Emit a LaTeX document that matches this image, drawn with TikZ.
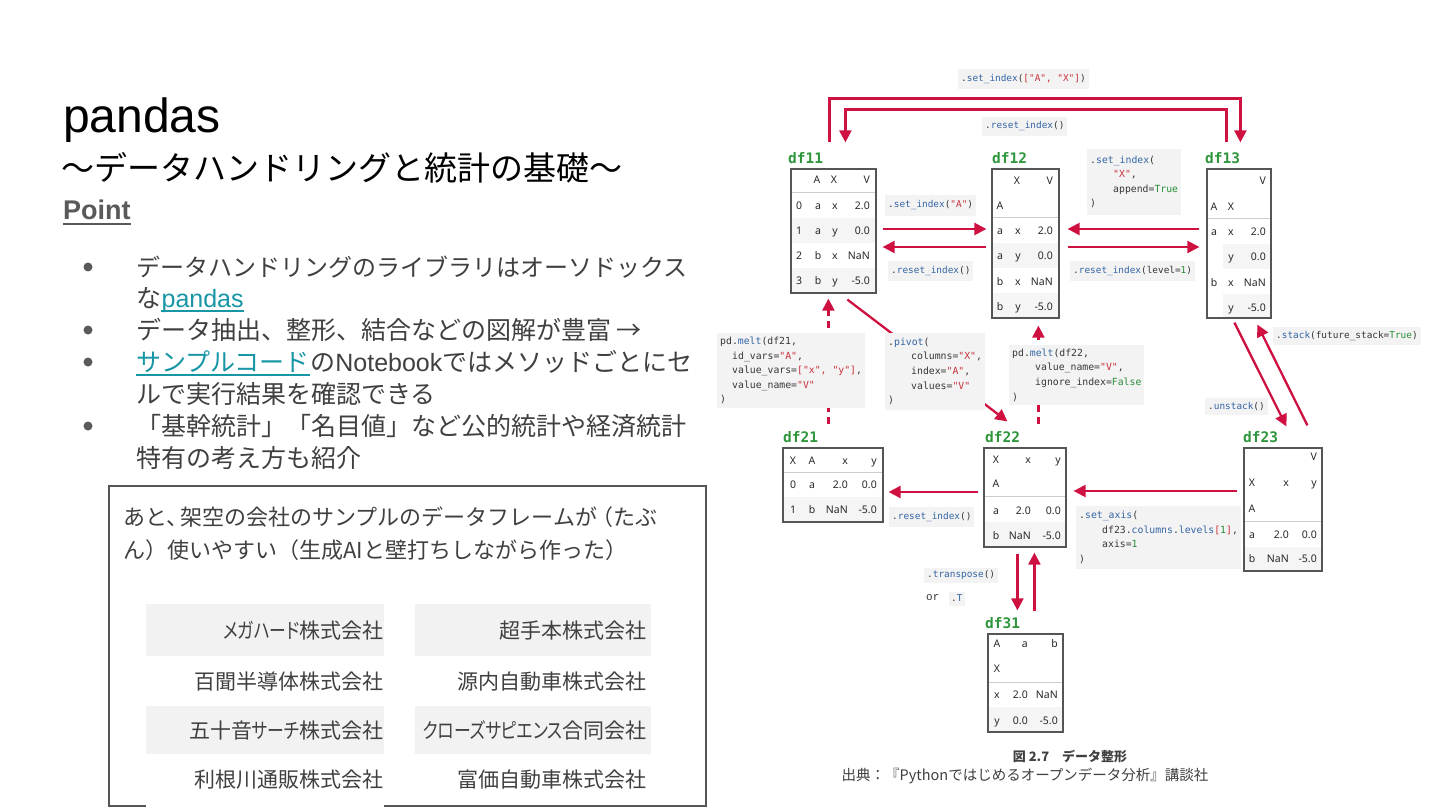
\documentclass[tikz,border=0pt]{standalone}
\usepackage{fontspec}
\usepackage{graphicx}
\setmainfont{Liberation Sans}
\newfontfamily\jpf{Noto Sans CJK JP}
\newfontfamily\jpp[RawFeature=+palt]{Noto Sans CJK JP}
\newfontfamily\cf[Ligatures=TeXOff]{DejaVu Sans Mono}
\newfontfamily\orf[Ligatures=TeXOff]{Liberation Mono}
\newfontfamily\tf{Noto Sans}
\usetikzlibrary{arrows.meta,calc}
\definecolor{crim}{RGB}{206,17,65}
\definecolor{dfg}{RGB}{46,150,60}
\definecolor{cbl}{RGB}{52,101,164}
\definecolor{cstr}{RGB}{200,50,60}
\definecolor{cgr}{RGB}{40,140,55}
\definecolor{codebg}{RGB}{243,243,243}
\definecolor{rowbg}{RGB}{245,245,245}
\definecolor{tbord}{RGB}{85,85,85}
\definecolor{sepc}{RGB}{205,205,205}
\definecolor{txt}{RGB}{64,64,64}
\definecolor{lnk}{RGB}{24,150,166}
\definecolor{ptc}{RGB}{89,89,89}
\definecolor{cellbg}{RGB}{242,242,242}
\definecolor{boxb}{RGB}{85,85,85}
\definecolor{codetx}{RGB}{55,55,55}
\definecolor{bulc}{RGB}{90,90,90}
\definecolor{celltx}{RGB}{40,40,40}
\newcommand\cdB[1]{\textcolor{cbl}{#1}}
\newcommand\cdS[1]{\textcolor{cstr}{#1}}
\newcommand\cdG[1]{\textcolor{cgr}{#1}}
\newcommand\narrowkana[1]{\scalebox{0.8}[1]{#1}}
\newcounter{cellno}
\newcommand\tcell[4]{\stepcounter{cellno}\node[#1] (cell\arabic{cellno}) at (#2,#3) {#4};}
\tikzset{
  arr/.style={draw=crim, line width=2.3pt, -{Triangle[length=12pt,width=12pt]}},
  darr/.style={arr, dash pattern=on 7pt off 5pt},
  cbox/.style={fill=codebg, anchor=west, inner xsep=3pt, inner ysep=0pt, align=left, text=codetx},
  codeone/.style={cbox, font=\cf\fontsize{9.4}{11}\selectfont},
  codemulti/.style={cbox, font=\cf\fontsize{9.8}{14.6}\selectfont},
  dfl/.style={font=\cf\bfseries\fontsize{14.5}{14.5}\selectfont, text=dfg, anchor=west, inner sep=0pt},
  dfbox/.style={draw=tbord, line width=1.2pt, inner sep=0pt},
  sepl/.style={draw=sepc, line width=1pt},
  cellbase/.style={inner sep=0pt, text=celltx},
  ce/.style={cellbase, font=\tf\fontsize{10.5}{10.5}\selectfont, anchor=base},
  cb/.style={cellbase, font=\tf\bfseries\fontsize{10.5}{10.5}\selectfont, anchor=base},
  cer/.style={cellbase, font=\tf\fontsize{10.5}{10.5}\selectfont, anchor=base east},
  cbr/.style={cellbase, font=\tf\bfseries\fontsize{10.5}{10.5}\selectfont, anchor=base east},
  bt/.style={font=\jpf\fontsize{25}{25}\selectfont, text=txt, anchor=base west, inner sep=0pt},
  bul/.style={circle, fill=bulc, inner sep=0pt, minimum size=9pt},
  memo/.style={font=\jpf\fontsize{22}{22}\selectfont, text=txt, anchor=base west, inner sep=0pt},
  comp/.style={font=\jpp\fontsize{21}{21}\selectfont, text=txt, anchor=base east, inner sep=0pt},
}
\begin{document}
\begin{tikzpicture}[x=1pt,y=-1pt]
\useasboundingbox (0,0) rectangle (1440,810);
\fill[white] (0,0) rectangle (1440,810);

% ---------- left side ----------
\node[anchor=base west, font=\fontsize{48}{48}\selectfont, inner sep=0pt] (title) at (63,133) {pandas};
\node[anchor=base west, font=\jpf\fontsize{33}{33}\selectfont, inner sep=0pt] (sub) at (61,180.5) {～データハンドリングと統計の基礎～};
\node[anchor=base west, font=\bfseries\fontsize{27}{27}\selectfont, text=ptc, inner sep=0pt] (point) at (63,220) {Point};
\draw[ptc, line width=2pt] ($(point.base west)+(0,4.5)$) -- ($(point.base east)+(0,4.5)$);

\node[bul] (b1) at (88,267) {};
\node[bul] (b2) at (88,330) {};
\node[bul] (b3) at (88,362) {};
\node[bul] (b4) at (88,426) {};
\node[bt, font=\jpf\fontsize{24}{24}\selectfont] (l1) at (136,276.5) {データハンドリングのライブラリはオーソドックス};
\node[bt] (l2a) at (136,307.5) {な};
\node[bt, text=lnk, font=\fontsize{25}{25}\selectfont] (l2b) at (l2a.base east) {pandas};
\draw[lnk, line width=1.5pt] ($(l2b.base west)+(0,3.5)$) -- ($(l2b.base east)+(0,3.5)$);
\node[bt] (l3) at (136,339.5) {データ抽出、整形、結合などの図解が豊富 →};
\node[bt, text=lnk] (l4a) at (136,371.5) {サンプルコード};
\draw[lnk, line width=1.5pt] ($(l4a.base west)+(0,3.5)$) -- ($(l4a.base east)+(0,3.5)$);
\node[bt] (l4b) at (l4a.base east) {の{\normalfont Notebook}ではメソッドごとにセ};
\node[bt] (l5) at (136,403.5) {ルで実行結果を確認できる};
\node[bt] (l6) at (136,435.5) {「基幹統計」「名目値」など公的統計や経済統計};
\node[bt] (l7) at (136,467.5) {特有の考え方も紹介};

\node[draw=boxb, line width=2.5pt, minimum width=597pt, minimum height=320pt, inner sep=0pt] (memobox) at (407.5,646) {};
\fill[white] (146,801) rectangle (384,809);
\node[memo] (m1) at (123,525.4) {あと、\kern-8pt 架空の会社のサンプルのデータフレームが\kern-6pt （たぶ};
\node[memo] (m2) at (123,558.4) {ん）使いやすい（生成AIと壁打ちしながら作った）};
\fill[cellbg] (146,604) rectangle (384,656);
\fill[cellbg] (146,706) rectangle (384,754);
\fill[cellbg] (415,604) rectangle (651,656);
\fill[cellbg] (415,706) rectangle (651,754);
\node[comp] (k1) at (384,638) {\narrowkana{メガハード}株式会社};
\node[comp] (k2) at (384,689) {百聞半導体株式会社};
\node[comp] (k3) at (384,738) {五十音\narrowkana{サーチ}株式会社};
\node[comp] (k4) at (384,787) {利根川通販株式会社};
\node[comp] (k5) at (647,638) {超手本株式会社};
\node[comp] (k6) at (647,689) {源内自動車株式会社};
\node[comp] (k7) at (647,738) {\narrowkana{クローズサピエンス}合同会社};
\node[comp] (k8) at (647,787) {富価自動車株式会社};

% ---------- tables: shading ----------
\fill[rowbg] (791,218) rectangle (876,243);
\fill[rowbg] (791,268) rectangle (876,293);
\fill[rowbg] (992,243) rectangle (1059,268);
\fill[rowbg] (992,293) rectangle (1059,318);
\fill[rowbg] (1223,244) rectangle (1271,269);
\fill[rowbg] (1223,294) rectangle (1271,318);
\fill[rowbg] (783,497) rectangle (883,522);
\fill[rowbg] (984,522) rectangle (1066,547);
\fill[rowbg] (1244,547) rectangle (1322,571);
\fill[rowbg] (988,707) rectangle (1063,732);
\draw[sepl] (791,193) -- (876,193);
\draw[sepl] (992,218) -- (1059,218);
\draw[sepl] (1207,219) -- (1271,219);
\draw[sepl] (783,472) -- (883,472);
\draw[sepl] (984,496) -- (1066,496);
\draw[sepl] (1244,521) -- (1322,521);
\draw[sepl] (988,682) -- (1063,682);

% ---------- tables: boxes ----------
\node[dfbox, minimum width=85pt, minimum height=124pt] (df11) at (833.5,231) {};
\node[dfbox, minimum width=67pt, minimum height=149pt] (df12) at (1025.5,243.5) {};
\node[dfbox, minimum width=64pt, minimum height=149pt] (df13) at (1239,243.5) {};
\node[dfbox, minimum width=100pt, minimum height=74pt] (df21) at (833,485) {};
\node[dfbox, minimum width=82pt, minimum height=99pt] (df22) at (1025,497.5) {};
\node[dfbox, minimum width=78pt, minimum height=123pt] (df23) at (1283,509.5) {};
\node[dfbox, minimum width=75pt, minimum height=98pt] (df31) at (1025.5,683) {};

\node[dfl] (n11) at (788,158) {df11};
\node[dfl] (n12) at (992,158) {df12};
\node[dfl] (n13) at (1205,158) {df13};
\node[dfl] (n21) at (783,437) {df21};
\node[dfl] (n22) at (985,437) {df22};
\node[dfl] (n23) at (1243,437) {df23};
\node[dfl] (n31) at (985,623) {df31};

% df11
\tcell{cb}{817}{183.6}{A}\tcell{cb}{834}{183.6}{X}\tcell{cbr}{870}{183.6}{V}
\tcell{cb}{799}{209.6}{0}\tcell{ce}{818}{209.6}{a}\tcell{ce}{835}{209.6}{x}\tcell{cer}{870}{209.6}{2.0}
\tcell{cb}{799}{234.6}{1}\tcell{ce}{818}{234.6}{a}\tcell{ce}{835}{234.6}{y}\tcell{cer}{870}{234.6}{0.0}
\tcell{cb}{799}{259.6}{2}\tcell{ce}{818}{259.6}{b}\tcell{ce}{835}{259.6}{x}\tcell{cer}{870}{259.6}{NaN}
\tcell{cb}{799}{284.6}{3}\tcell{ce}{818}{284.6}{b}\tcell{ce}{835}{284.6}{y}\tcell{cer}{870}{284.6}{-5.0}
% df12
\tcell{cb}{1017}{184.6}{X}\tcell{cbr}{1053}{184.6}{V}
\tcell{cb}{1000}{209.6}{A}
\tcell{cb}{1000}{234.6}{a}\tcell{ce}{1018}{234.6}{x}\tcell{cer}{1053}{234.6}{2.0}
\tcell{cb}{1000}{259.6}{a}\tcell{ce}{1018}{259.6}{y}\tcell{cer}{1053}{259.6}{0.0}
\tcell{cb}{1000}{285.6}{b}\tcell{ce}{1018}{285.6}{x}\tcell{cer}{1053}{285.6}{NaN}
\tcell{cb}{1000}{310.6}{b}\tcell{ce}{1018}{310.6}{y}\tcell{cer}{1053}{310.6}{-5.0}
% df13
\tcell{cbr}{1266}{184.6}{V}
\tcell{cb}{1214}{210.6}{A}\tcell{cb}{1231}{210.6}{X}
\tcell{cb}{1214}{235.6}{a}\tcell{cb}{1231}{235.6}{x}\tcell{cer}{1266}{235.6}{2.0}
\tcell{cb}{1231}{260.6}{y}\tcell{cer}{1266}{260.6}{0.0}
\tcell{cb}{1214}{286.6}{b}\tcell{cb}{1231}{286.6}{x}\tcell{cer}{1266}{286.6}{NaN}
\tcell{cb}{1231}{311.6}{y}\tcell{cer}{1266}{311.6}{-5.0}
% df21
\tcell{cb}{793}{464.6}{X}\tcell{cb}{812}{464.6}{A}\tcell{cbr}{848}{464.6}{x}\tcell{cbr}{877}{464.6}{y}
\tcell{cb}{793}{488.6}{0}\tcell{ce}{812}{488.6}{a}\tcell{cer}{848}{488.6}{2.0}\tcell{cer}{877}{488.6}{0.0}
\tcell{cb}{793}{513.6}{1}\tcell{ce}{812}{513.6}{b}\tcell{cer}{848}{513.6}{NaN}\tcell{cer}{877}{513.6}{-5.0}
% df22
\tcell{cb}{996}{463.6}{X}\tcell{cbr}{1031}{463.6}{x}\tcell{cbr}{1061}{463.6}{y}
\tcell{cb}{996}{487.6}{A}
\tcell{cb}{996}{514.6}{a}\tcell{cer}{1031}{514.6}{2.0}\tcell{cer}{1061}{514.6}{0.0}
\tcell{cb}{996}{539.6}{b}\tcell{cer}{1031}{539.6}{NaN}\tcell{cer}{1061}{539.6}{-5.0}
% df23
\tcell{cbr}{1317}{460.6}{V}
\tcell{cb}{1252}{486.6}{X}\tcell{cbr}{1289}{486.6}{x}\tcell{cbr}{1317}{486.6}{y}
\tcell{cb}{1252}{512.6}{A}
\tcell{cb}{1252}{538.6}{a}\tcell{cer}{1289}{538.6}{2.0}\tcell{cer}{1317}{538.6}{0.0}
\tcell{cb}{1252}{562.6}{b}\tcell{cer}{1289}{562.6}{NaN}\tcell{cer}{1317}{562.6}{-5.0}
% df31
\tcell{cb}{997}{647.6}{A}\tcell{cbr}{1028}{647.6}{a}\tcell{cbr}{1058}{647.6}{b}
\tcell{cb}{997}{672.6}{X}
\tcell{cb}{997}{698.6}{x}\tcell{cer}{1028}{698.6}{2.0}\tcell{cer}{1058}{698.6}{NaN}
\tcell{cb}{997}{724.6}{y}\tcell{cer}{1028}{724.6}{0.0}\tcell{cer}{1058}{724.6}{-5.0}

% ---------- connectors ----------
\draw[arr] ($(df11.east)+(6,-2)$) -- ($(df12.west)+(-5,-14.5)$);
\draw[arr] ($(df12.west)+(-5,3.5)$) -- ($(df11.east)+(6,16)$);
\draw[arr] ($(df13.west)+(-7,-14.5)$) -- ($(df12.east)+(8,-14.5)$);
\draw[arr] ($(df12.east)+(8,3.5)$) -- ($(df13.west)+(-7,3.5)$);
\draw[arr] ($(df11.north west)+(39,-26)$) |- ($(df13.north west)+(34,-70)$) -- ($(df13.north west)+(34,-26)$);
\draw[arr] ($(df13.north west)+(20,-26)$) -- ($(df13.north west)+(20,-59)$) -| ($(df11.north west)+(55,-26)$);
\draw[darr] ($(df21.north west)+(46,-23)$) -- ($(df11.south west)+(38,5)$);
\draw[arr] ($(df11.south west)+(57,6)$) -- ($(df22.north west)+(24,-26)$);
\draw[darr] ($(df22.north west)+(55,-23)$) -- ($(df12.south west)+(47,7)$);
\draw[arr] ($(df13.south west)+(28,4)$) -- ($(df23.north west)+(43,-21)$);
\draw[arr] ($(df23.north west)+(64,-22)$) -- ($(df13.south west)+(51,6)$);
\draw[arr] ($(df23.west)+(-6,-18.5)$) -- ($(df22.east)+(7,-6.5)$);
\draw[arr] ($(df22.west)+(-5,-5.5)$) -- ($(df21.east)+(5,7)$);
\draw[arr] ($(df22.south west)+(34,6)$) -- ($(df31.north west)+(30,-23)$);
\draw[arr] ($(df31.north west)+(47,-22)$) -- ($(df22.south west)+(51,5)$);

% ---------- code labels ----------
\node[codeone, minimum height=20pt] (cAX) at (958,79) {.\cdB{set\_index}(\cdS{["A", "X"]})};
\node[codeone, minimum height=19pt] (cR0) at (982,126.5) {.\cdB{reset\_index}()};
\node[codeone, minimum height=21pt] (cA) at (885,205.5) {.\cdB{set\_index}(\cdS{"A"})};
\node[codeone, minimum height=20pt] (cR1) at (888,271) {.\cdB{reset\_index}()};
\node[codemulti, minimum height=66pt] (cX) at (1087,182) {.\cdB{set\_index}(\\ \hspace*{23pt}\cdS{"X"},\\ \hspace*{23pt}append=\cdG{True}\\ )};
\node[codeone, minimum height=20pt] (cRL) at (1070,271) {.\cdB{reset\_index}(level=\cdG{1})};
\node[codemulti, minimum height=75pt] (cM21) at (717,370.5) {pd.\cdB{melt}(df21,\\ \hspace*{12pt}id\_vars=\cdS{"A"},\\ \hspace*{12pt}value\_vars=\cdS{["x", "y"]},\\ \hspace*{12pt}value\_name=\cdS{"V"}\\ )};
\node[codemulti, minimum height=77pt] (cPv) at (885,371.5) {.\cdB{pivot}(\\ \hspace*{23pt}columns=\cdS{"X"},\\ \hspace*{23pt}index=\cdS{"A"},\\ \hspace*{23pt}values=\cdS{"V"}\\ )};
\node[codemulti, minimum height=60pt] (cM22) at (1009,375) {pd.\cdB{melt}(df22,\\ \hspace*{23pt}value\_name=\cdS{"V"},\\ \hspace*{23pt}ignore\_index=\cdG{False}\\ )};
\node[codeone, minimum height=18pt] (cSt) at (1273,336) {.\cdB{stack}(future\_stack=\cdG{True})};
\node[codeone, minimum height=17pt] (cUs) at (1205,406.5) {.\cdB{unstack}()};
\node[codeone, minimum height=20pt] (cR2) at (889,517) {.\cdB{reset\_index}()};
\node[codemulti, minimum height=63pt] (cAx) at (1076,537.5) {.\cdB{set\_axis}(\\ \hspace*{23pt}df23.\cdB{columns}.\cdB{levels}\cdS{[}\cdG{1}\cdS{]},\\ \hspace*{23pt}axis=\cdG{1}\\ )};
\node[codeone, minimum height=15pt] (cT1) at (924,575) {.\cdB{transpose}()};
\node[codeone, minimum height=14pt, inner xsep=2pt] (cT2) at (949,598.5) {.\cdB{T}};
\node[font=\orf\fontsize{11}{11}\selectfont, text=codetx, anchor=west, inner sep=0pt] (orT) at (926,598) {or};

% ---------- caption ----------
\node[font=\jpf\bfseries\fontsize{13}{13}\selectfont, text=txt, inner sep=0pt] (fig) at (1070,756) {図 2.7　データ整形};
\node[font=\jpf\fontsize{14.5}{14.5}\selectfont, text=txt, inner sep=0pt] (src) at (1025,776) {出典：『Pythonではじめるオープンデータ分析』講談社};
\end{tikzpicture}
\end{document}
